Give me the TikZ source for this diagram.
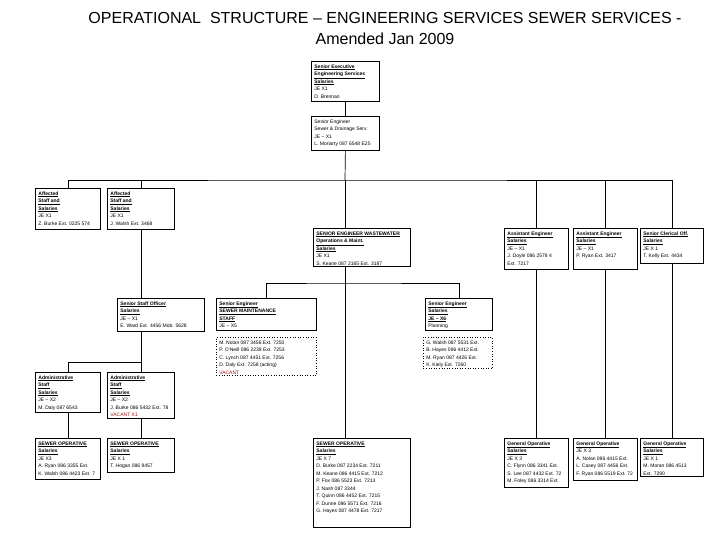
\documentclass[tikz,border=0pt]{standalone}
\usepackage{fontspec}
\setmainfont{Liberation Sans}
\definecolor{vacred}{RGB}{165,25,25}
\newcommand{\ulh}[1]{\underline{\textbf{#1}}}
\newcommand{\vac}[1]{\textcolor{vacred}{#1}}
% box content: total width, total height (pt), text -- top aligned
\newcommand{\bxc}[3]{\parbox[c][\dimexpr #2pt-3pt\relax][t]{\dimexpr #1pt-6pt\relax}{\raggedright\strut #3}}
\tikzset{
  orgbox/.style={draw, line width=0.8pt, anchor=north west, align=left,
    font=\fontsize{5}{7.5}\selectfont, inner xsep=3pt, inner ysep=1.5pt},
  dotbox/.style={orgbox, line width=0.6pt, dotted},
  link/.style={line width=0.7pt},
}
\begin{document}
\begin{tikzpicture}[x=1pt,y=-1pt]
\useasboundingbox (0,0) rectangle (720,540);
\node[align=center, font=\fontsize{16}{21}\selectfont] (title) at (385,28)
  {OPERATIONAL\ \ STRUCTURE -- ENGINEERING SERVICES SEWER SERVICES -\\ Amended Jan 2009};

% top chain
\node[orgbox] (T1) at (311,61)
  {\bxc{68}{40}{\ulh{Senior Executive}\\ \ulh{Engineering Services}\\ \ulh{Salaries}\\ JE X1\\ D. Brennan}};
\node[orgbox] (T2) at (311,116)
  {\bxc{68}{34}{Senior Engineer\\ Sewer \& Drainage Serv.\\ JE -- X1\\ L. Moriarty 087 6548 E25}};

% second row
\node[orgbox] (A) at (35,188)
  {\bxc{65}{41}{\ulh{Affected}\\ \ulh{Staff and}\\ \ulh{Salaries}\\ JE X1\\ Z. Burke Ext. 0225 574}};
\node[orgbox] (B) at (107,188)
  {\bxc{67}{41}{\ulh{Affected}\\ \ulh{Staff and}\\ \ulh{Salaries}\\ JE X1\\ J. Walsh Ext. 3468}};
\node[orgbox] (C) at (313,228)
  {\bxc{97}{38}{\ulh{SENIOR ENGINEER WASTEWATER}\\ \ulh{Operations \& Maint.}\\ \ulh{Salaries}\\ JE X1\\ S. Keane 087 2165 Ext. 3187}};
\node[orgbox] (D) at (504,228)
  {\bxc{64}{41}{\ulh{Assistant Engineer}\\ \ulh{Salaries}\\ JE -- X1\\ J. Doyle 086 2578 4\\ Ext. 7217}};
\node[orgbox] (E) at (573,228)
  {\bxc{64}{41}{\ulh{Assistant Engineer}\\ \ulh{Salaries}\\ JE -- X1\\ P. Ryan Ext. 3417}};
\node[orgbox] (F) at (640,228)
  {\bxc{63}{35}{\ulh{Senior Clerical Off.}\\ \ulh{Salaries}\\ JE X 1\\ T. Kelly Ext. 4434}};

% third row
\node[orgbox] (G) at (117,298)
  {\bxc{87}{33}{\ulh{Senior Staff Officer}\\ \ulh{Salaries}\\ JE -- X1\\ E. Ward Ext. 4456 Mob. 5628}};
\node[orgbox] (H) at (216,298)
  {\bxc{100}{32}{\ulh{Senior Engineer}\\ \ulh{SEWER MAINTENANCE}\\ \ulh{STAFF}\\ JE -- X5}};
\node[orgbox] (I) at (425,298)
  {\bxc{67}{32}{\ulh{Senior Engineer}\\ \ulh{Salaries}\\ \ulh{JE -- X6}\\ Planning}};
\node[dotbox] (Hd) at (216,337)
  {\bxc{100}{38}{M. Nolan 087 3456 Ext. 7250\\ P. O'Neill 086 2239 Ext. 7253\\ C. Lynch 087 4451 Ext. 7256\\ D. Daly Ext. 7258 (acting)\\ \vac{VACANT}}};
\node[dotbox] (Id) at (423,337)
  {\bxc{69}{31}{G. Walsh 087 5531 Ext.\\ B. Hayes 086 4412 Ext.\\ M. Ryan 087 4426 Ext.\\ K. Kiely Ext. 7260}};

% fourth row
\node[orgbox] (K) at (35,372)
  {\bxc{65}{40}{\ulh{Administrative}\\ \ulh{Staff}\\ \ulh{Salaries}\\ JE -- X2\\ M. Daly 087 6543}};
\node[orgbox] (L) at (107,372)
  {\bxc{67}{46}{\ulh{Administrative}\\ \ulh{Staff}\\ \ulh{Salaries}\\ JE -- X2\\ J. Burke 086 5432 Ext. 78\\ \vac{VACANT X1}}};

% bottom row
\node[orgbox] (M) at (35,438)
  {\bxc{65}{41}{\ulh{SEWER OPERATIVE}\\ \ulh{Salaries}\\ JE X3\\ A. Ryan 086 3355 Ext.\\ K. Walsh 086 4423 Ext. 7}};
\node[orgbox] (N) at (107,438)
  {\bxc{67}{34}{\ulh{SEWER OPERATIVE}\\ \ulh{Salaries}\\ JE X 1\\ T. Hogan 086 9457}};
\node[orgbox] (J) at (313,438)
  {\bxc{97}{89}{\ulh{SEWER OPERATIVE}\\ \ulh{Salaries}\\ JE X 7\\ D. Burke 087 2234 Ext. 7211\\ M. Keane 086 4415 Ext. 7212\\ P. Fox 086 5523 Ext. 7213\\ J. Nash 087 3344\\ T. Quinn 086 4452 Ext. 7215\\ F. Dunne 086 5571 Ext. 7216\\ G. Hayes 087 4478 Ext. 7217}};
\node[orgbox] (O) at (504,438)
  {\bxc{64}{49}{\ulh{General Operative}\\ \ulh{Salaries}\\ JE X 3\\ C. Flynn 086 3341 Ext.\\ S. Lee 087 4432 Ext. 72\\ M. Foley 086 3314 Ext.}};
\node[orgbox] (P) at (573,438)
  {\bxc{64}{42}{\ulh{General Operative}\\ JE X 3\\ A. Nolan 086 4415 Ext.\\ L. Casey 087 4456 Ext.\\ F. Ryan 086 5519 Ext. 72}};
\node[orgbox] (Q) at (640,438)
  {\bxc{63}{38}{\ulh{General Operative}\\ \ulh{Salaries}\\ JE X 1\\ M. Moran 086 4513\\ Ext. 7290}};

% connectors
\coordinate (bus) at (345,180);
\coordinate (hb) at (345,283);
\coordinate (gb) at (140.5,362);
\draw[link] (T1.south) -- (T2.north);
\draw[link] (T2.south) -- (bus);
\draw[link] (A.north) |- (bus) -| (F.north);
\draw[link] (B.north) -- (B.north |- bus);
\draw[link] (D.north) -- (D.north |- bus);
\draw[link] (E.north) -- (E.north |- bus);
\draw[link] (bus) -- (bus |- C.north);
\draw[link] (bus |- C.south) -- (bus |- J.north);
\draw[link] (H.north) |- (hb) -| (I.north);
\draw[link] (B.south) -- (B.south |- G.north);
\draw[link] (B.south |- G.south) -- (L.north);
\draw[link] (K.north) |- (gb);
\draw[link] (K.south) -- (M.north);
\draw[link] (L.south) -- (N.north);
\draw[link] (D.south) -- (O.north);
\draw[link] (E.south) -- (P.north);
\draw[link] (F.south) -- (Q.north);
\end{tikzpicture}
\end{document}
